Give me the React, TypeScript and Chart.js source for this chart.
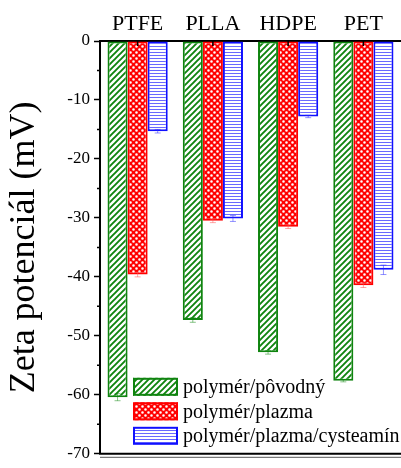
import React, { useEffect, useRef } from 'react';
import { Chart, registerables } from 'chart.js';

Chart.register(...registerables);

const categories = ['PTFE', 'PLLA', 'HDPE', 'PET'];
const seriesLabels = ['polymér/pôvodný', 'polymér/plazma', 'polymér/plazma/cysteamín'];
const originalValues = [-60.4, -47.3, -52.8, -57.6];
const plasmaValues = [-39.6, -30.5, -31.5, -41.4];
const cysteamineValues = [-15.3, -30.1, -12.8, -38.8];
const originalErrors = [0.6, 0.4, 0.3, 0.2];
const plasmaErrors = [0.4, 0.3, 0.3, 0.4];
const cysteamineErrors = [0.3, 0.5, 0.2, 0.8];
const yMin = -70;
const yMax = 0;
const yStep = 10;
const yTitle = 'Zeta potenciál (mV)';

const SERIF = "'Liberation Serif', 'Times New Roman', serif";
const GREEN = '#0f840f';
const RED = '#ff0000';
const BLUE = '#1010ff';

function makeGreen(): CanvasPattern | string {
  const c = document.createElement('canvas');
  c.width = 6; c.height = 6;
  const g = c.getContext('2d');
  if (!g) return '#fff';
  g.fillStyle = '#fff';
  g.fillRect(0, 0, 6, 6);
  g.strokeStyle = GREEN;
  g.lineWidth = 1.9;
  g.beginPath();
  g.moveTo(0, 6); g.lineTo(6, 0);
  g.moveTo(-1, 1); g.lineTo(1, -1);
  g.moveTo(5, 7); g.lineTo(7, 5);
  g.stroke();
  return g.createPattern(c, 'repeat') || '#fff';
}

function makeRed(): CanvasPattern | string {
  const c = document.createElement('canvas');
  c.width = 6; c.height = 6;
  const g = c.getContext('2d');
  if (!g) return RED;
  g.fillStyle = RED;
  g.fillRect(0, 0, 6, 6);
  g.fillStyle = '#fff';
  g.beginPath();
  g.arc(1.5, 1.5, 1.3, 0, Math.PI * 2);
  g.arc(4.5, 4.5, 1.3, 0, Math.PI * 2);
  g.fill();
  return g.createPattern(c, 'repeat') || RED;
}

function makeBlue(): CanvasPattern | string {
  const c = document.createElement('canvas');
  c.width = 4; c.height = 3;
  const g = c.getContext('2d');
  if (!g) return '#fff';
  g.fillStyle = '#fff';
  g.fillRect(0, 0, 4, 3);
  g.fillStyle = '#6a6aff';
  g.fillRect(0, 1, 4, 1);
  return g.createPattern(c, 'repeat') || '#fff';
}

export default function App() {
  const ref = useRef<HTMLCanvasElement | null>(null);

  useEffect(() => {
    document.body.style.margin = '0';
    const canvas = ref.current;
    if (!canvas) return;
    const fills = [makeGreen(), makeRed(), makeBlue()];
    const borders = [GREEN, RED, BLUE];
    const errColors = ['rgba(17,138,17,0.5)', 'rgba(255,80,80,0.5)', 'rgba(40,40,255,0.5)'];
    const errors = [originalErrors, plasmaErrors, cysteamineErrors];

    const decor = {
      id: 'decor',
      afterDatasetsDraw(chart: any) {
        const ctx = chart.ctx;
        const ys = chart.scales.y;
        chart.data.datasets.forEach((ds: any, di: number) => {
          const meta = chart.getDatasetMeta(di);
          meta.data.forEach((el: any, i: number) => {
            const v = ds.data[i];
            const e = errors[di][i];
            const y1 = ys.getPixelForValue(v - e);
            const y2 = ys.getPixelForValue(v + e);
            ctx.save();
            ctx.strokeStyle = errColors[di];
            ctx.lineWidth = 1;
            ctx.beginPath();
            ctx.moveTo(el.x, y1); ctx.lineTo(el.x, y2);
            ctx.moveTo(el.x - 3, y1); ctx.lineTo(el.x + 3, y1);
            ctx.moveTo(el.x - 3, y2); ctx.lineTo(el.x + 3, y2);
            ctx.stroke();
            ctx.restore();
          });
        });
      },
      afterDraw(chart: any) {
        const ctx = chart.ctx;
        const area = chart.chartArea;
        const xs = chart.scales.x;
        const ys = chart.scales.y;
        ctx.save();
        ctx.strokeStyle = '#000';
        ctx.lineWidth = 1.5;
        ctx.beginPath();
        for (let i = 0; i < categories.length; i++) {
          const x = xs.getPixelForTick(i);
          ctx.moveTo(x, area.top);
          ctx.lineTo(x, area.top + 5);
        }
        for (let v = yMax - yStep / 2; v > yMin; v -= yStep) {
          const y = ys.getPixelForValue(v);
          ctx.moveTo(area.left - 3, y);
          ctx.lineTo(area.left, y);
        }
        ctx.stroke();
        ctx.lineWidth = 2;
        ctx.beginPath();
        ctx.moveTo(area.left - 1, area.bottom);
        ctx.lineTo(area.right, area.bottom);
        ctx.stroke();
        ctx.strokeStyle = '#555';
        ctx.lineWidth = 1;
        ctx.beginPath();
        ctx.moveTo(area.left, area.bottom + 3.5);
        ctx.lineTo(area.right, area.bottom + 3.5);
        ctx.stroke();
        const bx = area.left + 33;
        const bw = 45;
        const bh = 18;
        const rowH = 24.5;
        const startY = area.bottom - 9 - bh - rowH * 2;
        ctx.font = `20px ${SERIF}`;
        ctx.textBaseline = 'middle';
        ctx.textAlign = 'left';
        chart.data.datasets.forEach((ds: any, di: number) => {
          const y = startY + di * rowH;
          ctx.fillStyle = fills[di];
          ctx.fillRect(bx, y, bw, bh);
          ctx.strokeStyle = borders[di];
          ctx.lineWidth = 2;
          ctx.strokeRect(bx + 1, y + 1, bw - 2, bh - 2);
          ctx.fillStyle = '#000';
          ctx.fillText(ds.label, bx + bw + 5, y + bh / 2 + 1);
        });
        ctx.restore();
      },
    };

    const chart = new Chart(canvas, {
      type: 'bar',
      data: {
        labels: categories,
        datasets: [originalValues, plasmaValues, cysteamineValues].map((d, i) => ({
          label: seriesLabels[i],
          data: d,
          backgroundColor: fills[i] as any,
          borderColor: borders[i],
          borderWidth: 2,
          borderSkipped: false,
          categoryPercentage: 0.8,
          barPercentage: 1.0,
        })),
      },
      options: {
        animation: false,
        responsive: true,
        maintainAspectRatio: false,
        layout: { padding: { left: 0, right: 0, top: 0, bottom: 7 }, autoPadding: false },
        plugins: {
          legend: { display: false },
          tooltip: { enabled: false },
        },
        scales: {
          x: {
            position: 'top',
            grid: { display: true, drawOnChartArea: false, drawTicks: false },
            border: { display: true, color: '#000', width: 2 },
            ticks: { color: '#000', font: { family: SERIF, size: 22 }, padding: 4 },
            afterFit: (s: any) => { s.height = 41; },
          },
          y: {
            min: yMin,
            max: yMax,
            ticks: { stepSize: yStep, color: '#000', font: { family: SERIF, size: 17 }, padding: 4 },
            grid: { display: true, drawOnChartArea: false, drawTicks: true, tickLength: 6, tickColor: '#000', tickWidth: 1.5 },
            border: { display: true, color: '#000', width: 2 },
            title: { display: true, text: yTitle, color: '#000', font: { family: SERIF, size: 36 }, padding: { top: 3, bottom: 0 } },
            afterFit: (s: any) => { s.width = 100; },
          },
        },
      },
      plugins: [decor],
    });
    return () => chart.destroy();
  }, []);

  return (
    <div style={{ position: 'relative', width: '401px', height: '468px' }}>
      <canvas ref={ref} />
    </div>
  );
}
